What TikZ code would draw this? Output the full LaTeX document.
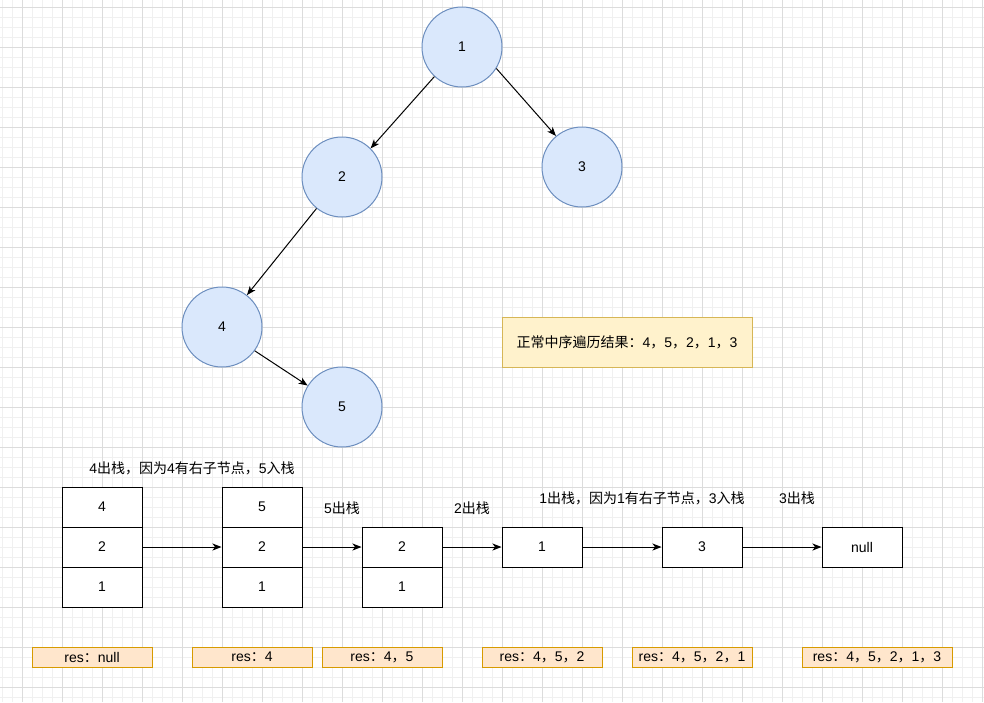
\documentclass[tikz,border=0pt]{standalone}
\usepackage{fontspec}
\setmainfont{Liberation Sans}
\newfontfamily\cjk{Noto Sans CJK SC}
\usetikzlibrary{arrows.meta}
\definecolor{gridminor}{HTML}{F0F0F0}
\definecolor{gridmajor}{HTML}{DCDCDC}
\definecolor{bluefill}{HTML}{DAE8FC}
\definecolor{bluedraw}{HTML}{6C8EBF}
\definecolor{yelfill}{HTML}{FFF2CC}
\definecolor{yeldraw}{HTML}{D6B656}
\definecolor{orfill}{HTML}{FFE6CC}
\definecolor{ordraw}{HTML}{D79B00}
\tikzset{
  treenode/.style={circle, draw=bluedraw, fill=bluefill, line width=1pt, minimum size=80pt, inner sep=0pt},
  cell/.style={rectangle, draw=black, fill=white, line width=1pt, minimum width=80pt, minimum height=40pt, inner sep=0pt},
  resbox/.style={rectangle, draw=ordraw, fill=orfill, line width=1pt, minimum height=20pt, inner sep=0pt},
  note/.style={inner sep=0pt},
  link/.style={line width=1pt, -{Stealth[length=9pt,width=7pt,inset=2.5pt]}},
}
\begin{document}
\begin{tikzpicture}[x=1pt, y=-1pt, font=\fontsize{14}{16}\selectfont]
\useasboundingbox (0,0) rectangle (984,702);
\fill[white] (0,0) rectangle (984,702);
% grid
\foreach \x in {2,12,...,982} \draw[gridminor, line width=0.8pt] (\x,0) -- (\x,702);
\foreach \y in {7,17,...,697} \draw[gridminor, line width=0.8pt] (0,\y) -- (984,\y);
\foreach \x in {22,62,...,982} \draw[gridmajor, line width=0.8pt] (\x,0) -- (\x,702);
\foreach \y in {7,47,...,697} \draw[gridmajor, line width=0.8pt] (0,\y) -- (984,\y);

% tree
\node[treenode] (n1) at (462,47) {1};
\node[treenode] (n2) at (342,177) {2};
\node[treenode] (n3) at (582,167) {3};
\node[treenode] (n4) at (222,327) {4};
\node[treenode] (n5) at (342,407) {5};
\draw[link] (n1.-133) -- (n2.45);
\draw[link] (n1.-32) -- (n3.130);
\draw[link] (n2.-129) -- (n4.52);
\draw[link] (n4.-36) -- (n5.148);

% result note
\node[rectangle, draw=yeldraw, fill=yelfill, line width=1pt, minimum width=250pt, minimum height=50pt, inner sep=0pt] (res) at (627,342)
  {{\cjk 正常中序遍历结果：}4{\cjk ，}5{\cjk ，}2{\cjk ，}1{\cjk ，}3};

% stacks
\node[cell] (a4) at (102,507) {4};
\node[cell] (a2) at (102,547) {2};
\node[cell] (a1) at (102,587) {1};
\node[cell] (b5) at (262,507) {5};
\node[cell] (b2) at (262,547) {2};
\node[cell] (b1) at (262,587) {1};
\node[cell] (c2) at (402,547) {2};
\node[cell] (c1) at (402,587) {1};
\node[cell] (d1) at (542,547) {1};
\node[cell] (e3) at (702,547) {3};
\node[cell] (f0) at (862,547) {null};
\draw[link] (a2) -- (b2);
\draw[link] (b2) -- (c2);
\draw[link] (c2) -- (d1);
\draw[link] (d1) -- (e3);
\draw[link] (e3) -- (f0);

% step labels
\node[note] (t1) at (192,468) {4{\cjk 出栈，因为}4{\cjk 有右子节点，}5{\cjk 入栈}};
\node[note] (t2) at (342,508) {5{\cjk 出栈}};
\node[note] (t3) at (472,508) {2{\cjk 出栈}};
\node[note] (t4) at (642,498) {1{\cjk 出栈，因为}1{\cjk 有右子节点，}3{\cjk 入栈}};
\node[note] (t5) at (797,498) {3{\cjk 出栈}};

% res boxes
\node[resbox, minimum width=120pt] (r1) at (92,657) {res{\cjk ：}null};
\node[resbox, minimum width=120pt] (r2) at (252,657) {res{\cjk ：}4};
\node[resbox, minimum width=120pt] (r3) at (382,657) {res{\cjk ：}4{\cjk ，}5};
\node[resbox, minimum width=120pt] (r4) at (542,657) {res{\cjk ：}4{\cjk ，}5{\cjk ，}2};
\node[resbox, minimum width=120pt] (r5) at (692,657) {res{\cjk ：}4{\cjk ，}5{\cjk ，}2{\cjk ，}1};
\node[resbox, minimum width=150pt] (r6) at (877,657) {res{\cjk ：}4{\cjk ，}5{\cjk ，}2{\cjk ，}1{\cjk ，}3};
\end{tikzpicture}
\end{document}
